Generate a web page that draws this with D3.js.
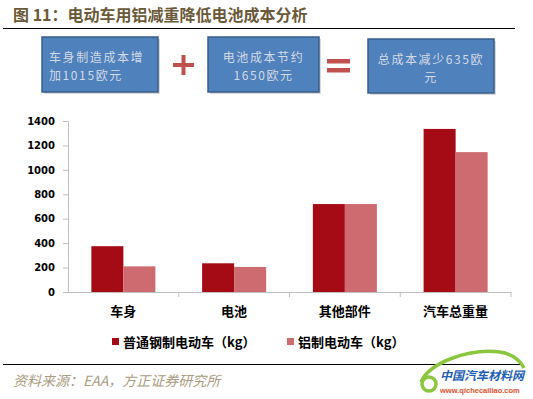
<!DOCTYPE html>
<html lang="zh">
<head>
    <meta charset="UTF-8">
    <title>图 11</title>
    <script src="https://cdn.jsdelivr.net/npm/d3@7/dist/d3.min.js"></script>
    <style>
        body {
            margin: 0;
            background: #fff;
        }
        text {
            font-family: "Noto Sans CJK SC", "DejaVu Sans", sans-serif;
        }
        .axis path, .axis line {
            stroke: #bfbfbf;
        }
    </style>
</head>
<body>
<svg id="svg" width="533" height="399"></svg>
<script>
    var categories = ["车身", "电池", "其他部件", "汽车总重量"];
    var seriesNames = ["普通钢制电动车（kg）", "铝制电动车（kg）"];
    var steelValues = [375, 235, 720, 1335];
    var aluValues = [210, 205, 720, 1145];
    var yTicks = [0, 200, 400, 600, 800, 1000, 1200, 1400];
    var colors = ["#a50b14", "#cd6b70"];
    var boxTexts = [["车身制造成本增", "加1015欧元"], ["电池成本节约", "1650欧元"], ["总成本减少635欧", "元"]];

    var svg = d3.select("#svg");

    // titulo
    svg.append("text")
        .attr("x", 13).attr("y", 21)
        .attr("font-size", 16).attr("font-weight", "bold")
        .attr("fill", "#6b5a3a")
        .text("图 11：电动车用铝减重降低电池成本分析");
    svg.append("line")
        .attr("x1", 3).attr("x2", 515).attr("y1", 28.5).attr("y2", 28.5)
        .attr("stroke", "#000").attr("stroke-width", 1);

    // cajas de arriba
    var boxes = [
        {x: 42, y: 37, w: 116, h: 55, align: "start"},
        {x: 208, y: 37, w: 111, h: 55, align: "middle"},
        {x: 368, y: 39, w: 126, h: 54, align: "middle"}
    ];
    boxes.forEach(function (b, i) {
        svg.append("rect")
            .attr("x", b.x + 2).attr("y", b.y + 2).attr("width", b.w).attr("height", b.h)
            .attr("fill", "#d9d9d9");
        svg.append("rect")
            .attr("x", b.x).attr("y", b.y).attr("width", b.w).attr("height", b.h)
            .attr("fill", "#4f81bd").attr("stroke", "#385d8a").attr("stroke-width", 1.5);
        var t = svg.append("text")
            .attr("font-size", 12)
            .attr("letter-spacing", 1.6)
            .attr("fill", "#d3dae4")
            .attr("text-anchor", b.align);
        boxTexts[i].forEach(function (line, j) {
            t.append("tspan")
                .attr("x", b.align === "start" ? b.x + 7 : b.x + b.w / 2)
                .attr("y", b.y + 25 + j * 18)
                .text(line);
        });
    });

    // signos + y =
    svg.append("rect").attr("x", 173).attr("y", 63).attr("width", 21).attr("height", 4).attr("fill", "#c0504d");
    svg.append("rect").attr("x", 181.5).attr("y", 55).attr("width", 4).attr("height", 20).attr("fill", "#c0504d");
    svg.append("rect").attr("x", 327).attr("y", 59).attr("width", 23).attr("height", 4.5).attr("fill", "#c0504d");
    svg.append("rect").attr("x", 327).attr("y", 68).attr("width", 23).attr("height", 4.5).attr("fill", "#c0504d");

    // grafico
    var plotLeft = 68, plotRight = 511, plotTop = 121, plotBottom = 292;

    var y = d3.scaleLinear().domain([0, 1400]).range([plotBottom, plotTop]);
    var x0 = d3.scaleBand().domain(categories).range([plotLeft, plotRight]).padding(0);
    var x1 = d3.scaleBand().domain([0, 1]).range([0, x0.bandwidth()]).paddingInner(0).paddingOuter(0.73);

    var datos = categories.map(function (c, i) {
        return {cat: c, vals: [steelValues[i], aluValues[i]]};
    });

    var grupos = svg.append("g").selectAll("g")
        .data(datos)
        .enter().append("g")
        .attr("transform", function (d) {
            return "translate(" + x0(d.cat) + ",0)";
        });
    grupos.selectAll("rect")
        .data(function (d) {
            return d.vals;
        })
        .enter().append("rect")
        .attr("x", function (d, i) {
            return x1(i);
        })
        .attr("y", function (d) {
            return y(d);
        })
        .attr("width", x1.bandwidth())
        .attr("height", function (d) {
            return plotBottom - y(d);
        })
        .attr("fill", function (d, i) {
            return colors[i];
        });

    var yAxis = svg.append("g")
        .attr("class", "axis")
        .attr("transform", "translate(" + plotLeft + ",0)")
        .call(d3.axisLeft(y).tickValues(yTicks).tickFormat(d3.format("d"))
            .tickSize(5).tickSizeOuter(5).tickPadding(8));
    yAxis.selectAll("text")
        .style("font-family", "DejaVu Sans")
        .attr("font-weight", "bold")
        .attr("font-size", 10)
        .attr("fill", "#000");

    // eje x con marcas entre categorias
    var xAxis = svg.append("g").attr("class", "axis");
    xAxis.append("line")
        .attr("x1", plotLeft).attr("x2", plotRight).attr("y1", plotBottom + 0.5).attr("y2", plotBottom + 0.5);
    xAxis.selectAll(".sep")
        .data(categories)
        .enter().append("line")
        .attr("x1", function (d) {
            return x0(d) + x0.bandwidth();
        })
        .attr("x2", function (d) {
            return x0(d) + x0.bandwidth();
        })
        .attr("y1", plotBottom).attr("y2", plotBottom + 5);
    xAxis.selectAll("text")
        .data(categories)
        .enter().append("text")
        .attr("x", function (d) {
            return x0(d) + x0.bandwidth() / 2;
        })
        .attr("y", 316)
        .attr("text-anchor", "middle")
        .attr("font-size", 13).attr("font-weight", "bold")
        .attr("fill", "#000")
        .text(function (d) {
            return d;
        });

    // leyenda
    var legendX = [112, 287];
    seriesNames.forEach(function (s, i) {
        svg.append("rect")
            .attr("x", legendX[i]).attr("y", 338).attr("width", 7).attr("height", 7)
            .attr("fill", colors[i]);
        svg.append("text")
            .attr("x", legendX[i] + 11).attr("y", 347)
            .attr("font-size", 13).attr("font-weight", "bold")
            .attr("fill", "#000")
            .text(s);
    });

    // pie
    svg.append("line")
        .attr("x1", 3).attr("x2", 522).attr("y1", 364.5).attr("y2", 364.5)
        .attr("stroke", "#000").attr("stroke-width", 1);
    svg.append("text")
        .attr("x", 13).attr("y", 386)
        .attr("font-size", 14).attr("font-style", "italic")
        .attr("fill", "#a89c80")
        .text("资料来源：EAA，方正证券研究所");

    // logo
    svg.append("path")
        .attr("d", "M421,382 C430,362 470,348 500,352 C512,354 520,360 524,368")
        .attr("fill", "none").attr("stroke", "#8cc63f").attr("stroke-width", 3.5);
    svg.append("circle")
        .attr("cx", 429).attr("cy", 384).attr("r", 7)
        .attr("fill", "none").attr("stroke", "#8cc63f").attr("stroke-width", 3.5);
    svg.append("text")
        .attr("x", 440).attr("y", 380)
        .attr("font-size", 12).attr("font-weight", "bold").attr("font-style", "italic")
        .attr("fill", "#1f5fb4")
        .text("中国汽车材料网");
    svg.append("text")
        .attr("x", 440).attr("y", 393)
        .style("font-family", "Liberation Sans")
        .attr("font-size", 7.5).attr("font-weight", "bold")
        .attr("fill", "#e0502a")
        .text("www.qichecailiao.com");
</script>
</body>
</html>
